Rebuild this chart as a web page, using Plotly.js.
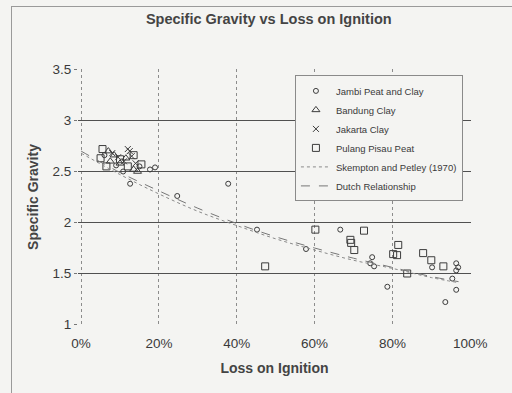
<!DOCTYPE html>
<html>
<head>
<meta charset="utf-8">
<script src="https://cdn.plot.ly/plotly-3.0.1.min.js"></script>
<style>
  html, body { margin: 0; padding: 0; background: #f4f4f2; }
  #wrap { position: relative; width: 512px; height: 393px; }
  #chart { width: 512px; height: 393px; }
  #frame { position: absolute; left: 11px; top: 6px; width: 501px; height: 387px;
           border-left: 1px solid #9a9a9a; border-top: 1px solid #9a9a9a; pointer-events: none; }
</style>
</head>
<body>
<div id="wrap">
  <div id="chart"></div>
  <div id="frame"></div>
</div>
<script>
// Loss on ignition (fraction) and specific gravity for each soil group
const jambiLOI = [0.108, 0.177, 0.19, 0.126, 0.06, 0.09, 0.15, 0.247, 0.378, 0.452, 0.578, 0.666, 0.748, 0.743, 0.753, 0.787, 0.902, 0.936, 0.954, 0.964, 0.969, 0.964, 0.964];
const jambiGs  = [2.50, 2.52, 2.54, 2.38, 2.66, 2.56, 2.55, 2.26, 2.38, 1.93, 1.74, 1.93, 1.66, 1.60, 1.57, 1.37, 1.56, 1.22, 1.45, 1.60, 1.56, 1.53, 1.34];

const bandungLOI = [0.07, 0.085, 0.10, 0.135, 0.145, 0.075, 0.115];
const bandungGs  = [2.70, 2.66, 2.58, 2.52, 2.50, 2.60, 2.63];

const jakartaLOI = [0.08, 0.095, 0.12, 0.13, 0.11, 0.14, 0.125];
const jakartaGs  = [2.68, 2.64, 2.72, 2.65, 2.60, 2.58, 2.70];

const pulangLOI = [0.055, 0.05, 0.065, 0.10, 0.12, 0.155, 0.135, 0.602, 0.473, 0.692, 0.694, 0.702, 0.727, 0.802, 0.812, 0.815, 0.838, 0.879, 0.900, 0.931];
const pulangGs  = [2.72, 2.63, 2.55, 2.62, 2.55, 2.57, 2.66, 1.93, 1.57, 1.83, 1.80, 1.73, 1.92, 1.69, 1.68, 1.78, 1.50, 1.70, 1.63, 1.57];

// Reference curves
const curveLOI   = [0.0, 0.1, 0.2, 0.3, 0.4, 0.5, 0.6, 0.7, 0.8, 0.9, 0.97];
const skemptonGs = [2.68, 2.47, 2.28, 2.11, 1.97, 1.84, 1.73, 1.63, 1.55, 1.46, 1.41];
const dutchGs    = [2.70, 2.49, 2.31, 2.14, 1.99, 1.86, 1.75, 1.65, 1.56, 1.47, 1.42];

const xTicks = [0, 0.2, 0.4, 0.6, 0.8, 1.0];
const xTickText = ['0%', '20%', '40%', '60%', '80%', '100%'];
const yTicks = [1, 1.5, 2, 2.5, 3, 3.5];
const yTickText = ['1', '1.5', '2', '2.5', '3', '3.5'];

const ink = '#3c3c3c';
const markerTrace = (x, y, name, symbol, size) => ({
  x, y, name, type: 'scatter', mode: 'markers',
  marker: { symbol, size, color: ink, line: { width: 1, color: ink } }
});

const traces = [
  markerTrace(jambiLOI, jambiGs, 'Jambi Peat and Clay', 'circle-open', 5),
  markerTrace(bandungLOI, bandungGs, 'Bandung Clay', 'triangle-up-open', 7),
  markerTrace(jakartaLOI, jakartaGs, 'Jakarta Clay', 'x-thin-open', 6),
  markerTrace(pulangLOI, pulangGs, 'Pulang Pisau Peat', 'square-open', 7),
  { x: curveLOI, y: skemptonGs, name: 'Skempton and Petley (1970)', type: 'scatter', mode: 'lines',
    line: { color: '#8a8a8a', width: 1, dash: 'dot', shape: 'spline' } },
  { x: curveLOI, y: dutchGs, name: 'Dutch Relationship', type: 'scatter', mode: 'lines',
    line: { color: '#777', width: 1, dash: 'dash', shape: 'spline' } }
];

const layout = {
  width: 512, height: 393,
  paper_bgcolor: '#f4f4f2', plot_bgcolor: '#f4f4f2',
  margin: { l: 78, r: 41, t: 69, b: 68 },
  font: { family: 'Liberation Sans, Arial, sans-serif', color: '#3a3a3a', size: 12 },
  title: { text: '<b>Specific Gravity vs Loss on Ignition</b>', x: 0.525, xanchor: 'center', y: 0.953, yanchor: 'middle',
           font: { size: 14.5, color: '#444' } },
  xaxis: {
    range: [-0.008, 1.002], tickvals: xTicks, ticktext: xTickText,
    showgrid: true, gridcolor: '#8c8c8c', griddash: 'dot', gridwidth: 1,
    zeroline: false, showline: false, ticks: '', ticklabelstandoff: 8,
    tickfont: { size: 13.5, color: '#3a3a3a' },
    title: { text: '<b>Loss on Ignition</b>', font: { size: 14, color: '#444' }, standoff: 13 }
  },
  yaxis: {
    range: [0.995, 3.505], tickvals: yTicks, ticktext: yTickText,
    showgrid: true, gridcolor: '#505050', gridwidth: 1.3,
    zeroline: false, showline: false, ticks: 'outside', ticklen: 3, tickcolor: '#777',
    tickfont: { size: 13.5, color: '#3a3a3a' },
    title: { text: '<b>Specific Gravity</b>', font: { size: 14, color: '#444' }, standoff: 10 }
  },
  showlegend: true,
  legend: {
    x: 0.552, y: 0.975, xanchor: 'left', yanchor: 'top',
    bgcolor: '#f4f4f2', bordercolor: '#8a8a8a', borderwidth: 1,
    font: { size: 9.5, color: '#3a3a3a' }, tracegroupgap: 0, itemwidth: 30
  }
};

Plotly.newPlot('chart', traces, layout, { staticPlot: true, displayModeBar: false });
</script>
</body>
</html>
